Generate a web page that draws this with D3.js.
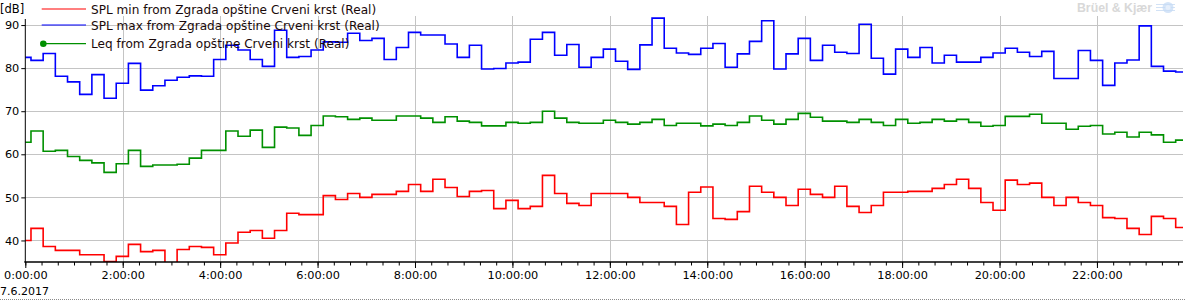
<!DOCTYPE html>
<html>
<head>
<meta charset="utf-8">
<script src="https://cdn.jsdelivr.net/npm/d3@7"></script>
<style>
  body { margin: 0; background: #fff; }
  svg { display: block; font-family: "DejaVu Sans", sans-serif; }
</style>
</head>
<body>
<div class="chart"></div>
<script>
// 15 minute intervals, first one starts 8 minutes before midnight
const day = new Date(2017, 5, 7, 0, 0);
const firstOffsetMin = -8;
const stepMin = 15;
const endTime = new Date(2017, 5, 7, 23, 46);

const seriesNames = [
  "SPL min from Zgrada opštine Crveni krst (Real)",
  "SPL max from Zgrada opštine Crveni krst (Real)",
  "Leq from Zgrada opštine Crveni krst (Real)"
];
const seriesColors = ["#ff0000", "#0000ff", "#009000"];

const splMin = [40.0,42.8,38.6,37.7,37.7,36.7,36.7,35.1,36.3,39.1, 37.4,37.7,33.5,37.9,38.6,38.4,36.7,39.4,41.9,42.3,
  40.5,42.3,46.3,46.0,46.0,50.4,49.5,50.9,50.0,50.7, 50.7,51.4,53.0,51.4,54.2,52.3,50.2,51.4,51.6,47.4,
  49.3,47.4,47.9,55.1,50.9,48.6,48.1,50.9,50.9,50.9, 50.0,48.8,48.8,47.9,43.7,51.2,52.4,45.1,44.9,46.7,
  52.6,51.2,50.0,48.1,51.9,50.7,50.0,52.6,47.9,46.5, 48.1,51.2,51.2,51.4,51.4,52.1,53.0,54.2,52.1,48.8,
  47.0,54.0,53.0,53.3,50.0,48.1,50.0,48.8,48.1,45.3, 45.1,42.8,41.4,45.6,45.1,43.0];

const splMax = [82.5,81.8,83.4,78.1,76.8,73.9,78.5,73.0,76.5,81.1, 74.9,75.9,77.2,77.9,78.2,78.1,82.0,85.3,84.2,82.0,
  80.4,88.8,82.5,82.7,84.2,86.1,86.0,88.1,86.4,86.9, 82.0,84.8,88.3,87.7,87.7,85.6,82.5,85.3,79.8,79.9,
  81.2,81.4,86.7,88.3,83.0,85.5,80.2,82.5,84.4,81.6, 79.7,85.4,91.6,84.6,83.5,83.2,84.6,85.7,80.2,83.3,
  86.2,91.0,79.8,83.3,86.9,81.8,85.3,83.7,83.4,90.2, 82.3,78.6,84.4,82.5,84.8,81.2,83.0,81.4,81.4,82.5,
  83.5,84.6,83.7,82.7,83.9,77.6,77.6,84.1,81.8,76.0, 81.2,81.9,89.8,80.4,79.3,79.1];

const leq = [62.8,65.4,60.7,60.9,59.5,58.6,58.0,55.8,57.8,60.9, 57.2,57.5,57.5,57.7,59.1,60.9,60.9,65.4,64.2,65.6,
  61.6,66.3,66.1,64.4,66.7,68.9,68.7,68.1,68.4,67.9, 67.9,68.9,68.9,68.4,67.4,68.7,67.7,67.4,66.6,66.6,
  67.4,67.2,67.4,70.0,68.4,67.4,67.2,67.2,67.9,67.4, 67.0,67.4,68.1,66.7,67.2,67.2,66.6,67.0,66.7,67.4,
  68.9,67.9,67.0,68.1,69.5,68.6,67.7,67.7,67.4,68.1, 67.4,66.7,68.1,67.2,67.4,68.1,67.7,68.1,67.4,66.5,
  66.7,68.8,68.8,69.3,67.2,67.2,65.8,66.5,66.7,64.7, 65.1,64.0,65.1,64.5,62.8,63.3];

const yTicks = [40, 50, 60, 70, 80, 90];
const dateLabel = "7.6.2017";

const W = 1185, H = 301;
const plotLeft = 25.3, plotRight = 1183, plotTop = 16, plotBottom = 262;

const svg = d3.select(".chart").append("svg")
    .attr("width", W)
    .attr("height", H);

const x = d3.scaleTime().domain([day, endTime]).range([plotLeft, plotRight]);
const y = d3.scaleLinear().domain([35, 92.1]).range([plotBottom, plotTop]);

// horizontal grid
svg.append("g").selectAll("line")
    .data(yTicks)
    .join("line")
    .attr("x1", plotLeft).attr("x2", plotRight)
    .attr("y1", d => Math.round(y(d)) + 0.5).attr("y2", d => Math.round(y(d)) + 0.5)
    .attr("stroke", "#c4c4c4");

// vertical grid every 2 hours
svg.append("g").selectAll("line")
    .data(x.ticks(d3.timeHour.every(2)).slice(1))
    .join("line")
    .attr("x1", d => Math.round(x(d)) + 0.5).attr("x2", d => Math.round(x(d)) + 0.5)
    .attr("y1", plotTop).attr("y2", plotBottom)
    .attr("stroke", "#c4c4c4");

// series as step lines
svg.append("clipPath").attr("id", "plot")
  .append("rect")
    .attr("x", plotLeft).attr("y", plotTop)
    .attr("width", plotRight - plotLeft).attr("height", plotBottom - plotTop);

function toPoints(values) {
    const pts = values.map((v, i) => ({
        t: d3.timeMinute.offset(day, firstOffsetMin + i * stepMin), v
    }));
    pts.push({ t: d3.timeMinute.offset(day, firstOffsetMin + values.length * stepMin), v: values[values.length - 1] });
    return pts;
}

const line = d3.line()
    .curve(d3.curveStepAfter)
    .x(d => x(d.t))
    .y(d => y(d.v));

const lines = svg.append("g").attr("clip-path", "url(#plot)");
[splMin, splMax, leq].forEach((vals, i) => {
    lines.append("path")
        .attr("fill", "none")
        .attr("stroke", seriesColors[i])
        .attr("stroke-width", 1.6)
        .attr("d", line(toPoints(vals)));
});

// y axis
const yAxis = svg.append("g")
    .attr("transform", `translate(${plotLeft},0)`)
    .call(d3.axisLeft(y).tickValues(yTicks).tickSize(4).tickPadding(2).tickSizeOuter(0));
yAxis.select(".domain").remove();
yAxis.selectAll("text").attr("font-size", 11.3).attr("fill", "#000").attr("font-family", "DejaVu Sans");
svg.append("line")
    .attr("x1", plotLeft).attr("x2", plotLeft)
    .attr("y1", 19).attr("y2", plotBottom)
    .attr("stroke", "#000");

// x axis: minor ticks every 20 min, major every 2 h
const xMinor = svg.append("g")
    .attr("transform", `translate(0,${plotBottom})`)
    .call(d3.axisBottom(x).ticks(d3.timeMinute.every(20)).tickSize(3.5).tickFormat(""));
xMinor.select(".domain").remove();

const xAxis = svg.append("g")
    .attr("transform", `translate(0,${plotBottom})`)
    .call(d3.axisBottom(x).ticks(d3.timeHour.every(2)).tickSize(6).tickPadding(3)
        .tickFormat(d3.timeFormat("%-H:%M:%S")));
xAxis.select(".domain").remove();
xAxis.selectAll("text").attr("font-size", 11.3).attr("fill", "#000").attr("font-family", "DejaVu Sans");

svg.append("line")
    .attr("x1", plotLeft - 1).attr("x2", plotRight)
    .attr("y1", plotBottom).attr("y2", plotBottom)
    .attr("stroke", "#000")
    .attr("stroke-width", 1.6);

svg.append("text")
    .attr("x", 0).attr("y", 295)
    .attr("font-size", 11)
    .text(dateLabel);

svg.append("text")
    .attr("x", 0).attr("y", 12.5)
    .attr("font-size", 11.5)
    .text("[dB]");

// legend
const legendY = [9, 25, 43.7];
const legend = svg.append("g");
seriesNames.forEach((name, i) => {
    legend.append("line")
        .attr("x1", 41.7).attr("x2", 86)
        .attr("y1", legendY[i]).attr("y2", legendY[i])
        .attr("stroke", seriesColors[i])
        .attr("stroke-width", 1.2);
    legend.append("text")
        .attr("x", 91).attr("y", legendY[i] + 4.6)
        .attr("font-size", 12.1)
        .attr("fill", "#1a0a0a")
        .text(name);
});
legend.append("circle")
    .attr("cx", 43.3).attr("cy", legendY[2])
    .attr("r", 3.3)
    .attr("fill", seriesColors[2]);

// Brüel & Kjær logo, faded
svg.append("text")
    .attr("x", 1077).attr("y", 12)
    .attr("font-family", "Liberation Sans, Arial, sans-serif")
    .attr("font-weight", "bold")
    .attr("font-size", 12.3)
    .attr("textLength", 75)
    .attr("fill", "#d8d8d8")
    .text("Brüel & Kjær");
const logo = svg.append("g").attr("transform", "translate(1168,7.5)");
logo.append("circle").attr("r", 5.5).attr("fill", "#d4e4f8");
[-3, 0, 3].forEach(dy => {
    logo.append("line")
        .attr("x1", -12).attr("x2", 7)
        .attr("y1", dy).attr("y2", dy)
        .attr("stroke", "#c6daf4").attr("stroke-width", 0.8);
});
logo.append("circle").attr("r", 2.5).attr("fill", "#e6effb");

// dotted separator at the very bottom
svg.append("line")
    .attr("x1", 0).attr("x2", W)
    .attr("y1", 299.5).attr("y2", 299.5)
    .attr("stroke", "#8a8a8a")
    .attr("stroke-dasharray", "1,1");
</script>
</body>
</html>
